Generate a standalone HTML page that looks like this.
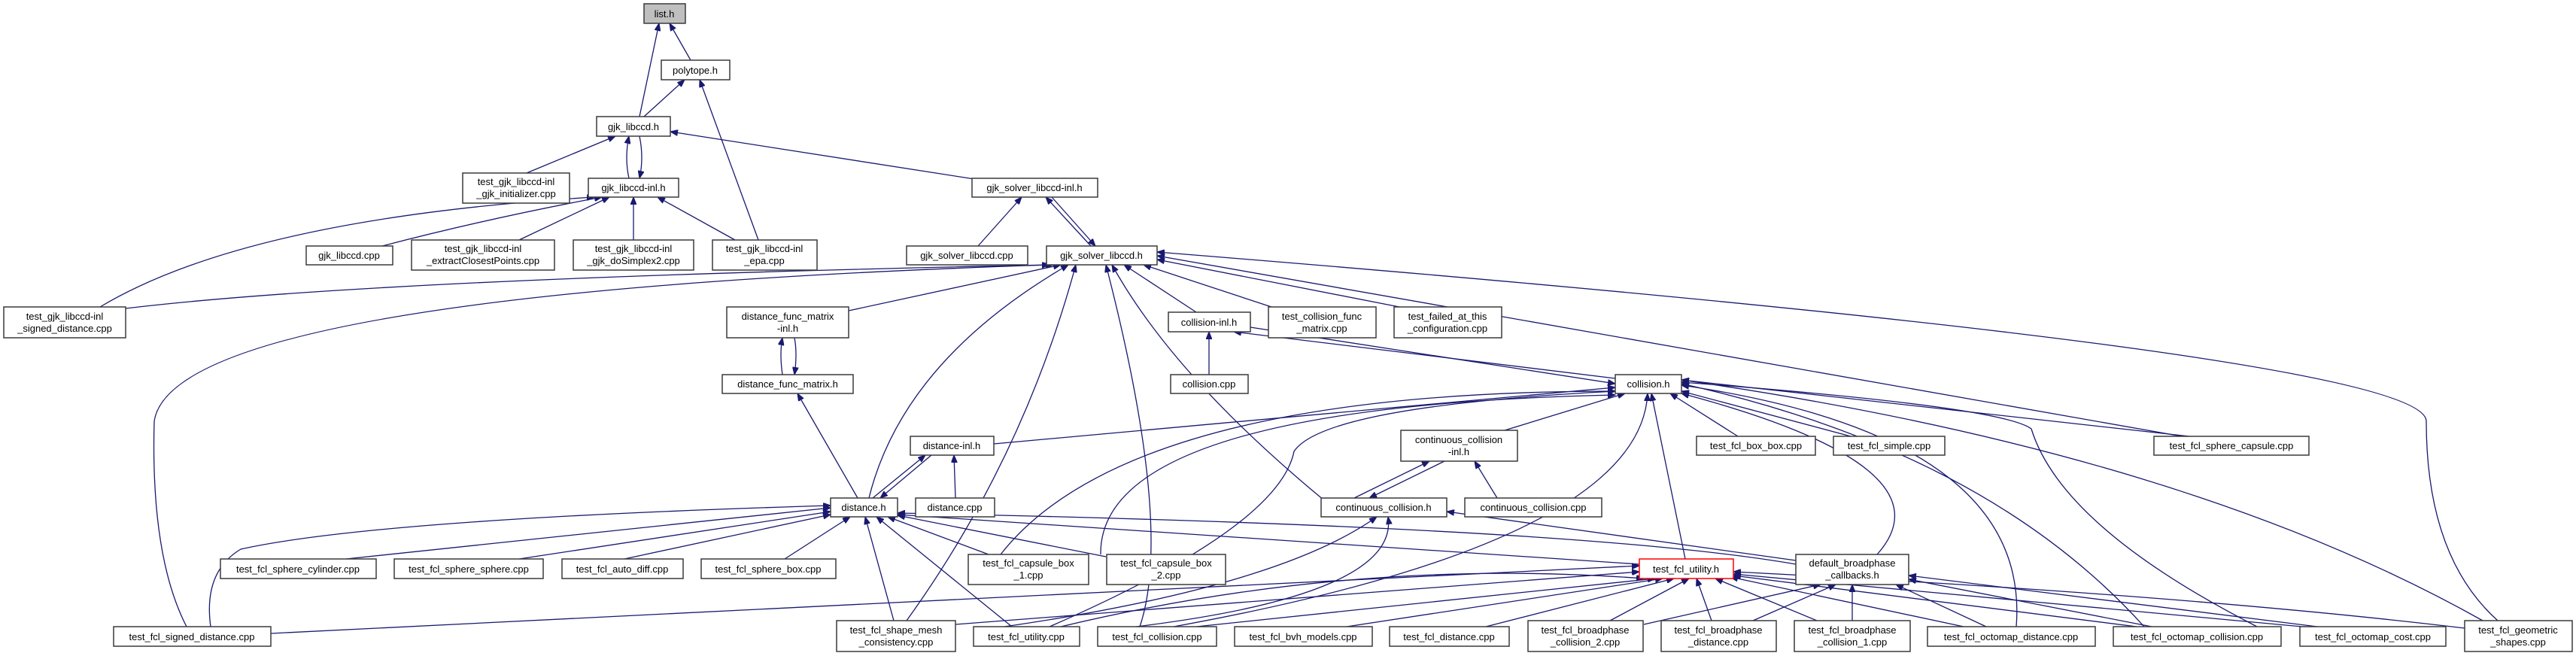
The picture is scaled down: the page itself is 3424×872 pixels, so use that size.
<!DOCTYPE html>
<html><head><meta charset="utf-8"><style>
html,body{margin:0;padding:0;background:#fff}
svg{display:block}
text{font-family:"Liberation Sans",sans-serif;font-size:13px;fill:#000;text-anchor:middle}
rect{fill:#fff;stroke:#3a3a3a;stroke-width:1.5}
path{fill:none;stroke:#191970;stroke-width:1.3}
</style></head><body>
<svg width="3424" height="872" viewBox="0 0 3424 872" xmlns="http://www.w3.org/2000/svg">
<defs><marker id="a" markerUnits="userSpaceOnUse" markerWidth="11" markerHeight="8" refX="10" refY="4" orient="auto"><path d="M0,0 L10,4 L0,8 z" style="fill:#191970;stroke:#191970;stroke-width:1"/></marker></defs>
<g marker-end="url(#a)">
<path d="M850,155 L876,31"/><path d="M918,80 L890,31"/><path d="M856,155 L910,106"/><path d="M1008,319 L930,106"/>
<path d="M700,230 L818,181"/><path d="M836,237 Q830,210 836,181"/><path d="M850,181 Q856,210 850,237"/>
<path d="M1295,238 L891,175"/>
<path d="M508,327 Q650,290 800,262"/><path d="M690,319 L810,262"/><path d="M842,319 L842,262"/><path d="M977,319 L874,262"/>
<path d="M133,408 Q330,290 790,262"/>
<path d="M1300,327 L1358,262"/><path d="M1450,327 L1390,262"/><path d="M1398,262 L1456,327"/>
<path d="M167,410 Q500,370 1400,352"/>
<path d="M248,833 Q200,740 205,560 Q230,390 1395,352"/>
<path d="M1128,413 L1410,352"/><path d="M1155,662 Q1200,480 1420,352"/><path d="M1205,825 Q1360,610 1430,352"/>
<path d="M1590,415 L1494,352"/><path d="M1690,408 L1520,352"/><path d="M1860,408 L1538,345"/>
<path d="M2900,580 L1538,340"/><path d="M3320,825 Q3225,740 3225,560 Q3225,470 1538,335"/>
<path d="M1760,665 Q1560,500 1478,352"/><path d="M1515,833 Q1560,700 1470,352"/>
<path d="M1040,498 Q1036,470 1040,449"/><path d="M1056,449 Q1060,470 1056,498"/>
<path d="M1140,662 L1060,523"/>
<path d="M1160,662 L1230,605"/><path d="M1238,605 L1170,662"/><path d="M1270,662 L1268,605"/>
<path d="M1607,498 L1607,441"/>
<path d="M2147,503 L1640,441"/><path d="M1662,435 L2147,510"/>
<path d="M1321,590 L2147,515"/><path d="M2000,572 L2160,523"/><path d="M2310,580 L2220,523"/><path d="M2460,580 L2235,520"/>
<path d="M2910,580 L2235,505"/><path d="M2240,743 L2195,523"/><path d="M2495,737 Q2600,620 2235,523"/>
<path d="M1330,737 Q1500,520 2147,520"/><path d="M1463,737 Q1460,540 2147,525"/>
<path d="M1395,833 Q1700,700 1720,600 Q1760,540 2147,520"/><path d="M1560,833 Q2180,720 2190,523"/>
<path d="M2680,833 Q2700,580 2235,512"/><path d="M2850,833 Q2640,600 2235,510"/><path d="M3000,833 Q2740,700 2700,570 Q2660,540 2235,508"/>
<path d="M3300,825 Q2900,600 2235,505"/>
<path d="M1800,662 L1900,613"/><path d="M1920,613 L1820,662"/><path d="M1990,662 L1960,613"/>
<path d="M2387,745 L1923,680"/><path d="M1335,833 Q1700,780 1830,687"/><path d="M1510,833 Q1860,790 1845,687"/>
<path d="M460,743 L1104,675"/><path d="M690,743 L1104,680"/><path d="M830,743 L1104,684"/><path d="M1043,743 L1130,687"/>
<path d="M280,833 Q270,760 320,730 Q500,690 1104,672"/>
<path d="M1188,825 L1150,687"/><path d="M1345,833 L1165,687"/><path d="M1314,737 L1180,687"/><path d="M1470,740 L1193,685"/>
<path d="M2387,750 Q2100,700 1193,682"/><path d="M2179,750 L1193,684"/>
<path d="M360,842 L2179,752"/><path d="M1270,830 L2179,760"/><path d="M1410,833 Q1800,740 2185,769"/><path d="M1590,833 L2200,769"/>
<path d="M1790,833 L2210,769"/><path d="M1975,833 L2225,769"/><path d="M2140,825 L2245,769"/><path d="M2275,825 L2255,769"/>
<path d="M2415,825 L2280,769"/><path d="M2610,833 L2300,767"/><path d="M2840,833 L2304,765"/><path d="M3060,833 L2304,763"/>
<path d="M3276,835 Q2900,790 2304,760"/>
<path d="M2185,830 L2420,777"/><path d="M2330,825 L2440,777"/><path d="M2462,825 L2462,777"/><path d="M2640,833 L2520,777"/>
<path d="M2860,833 L2537,770"/><path d="M3080,833 L2537,765"/>
</g>
<g>
<rect x="856" y="5" width="55" height="26" style="fill:#bfbfbf"/><text x="883" y="23">list.h</text>
<rect x="879" y="80" width="91" height="26"/><text x="924" y="98">polytope.h</text>
<rect x="793" y="155" width="98" height="26"/><text x="842" y="173">gjk_libccd.h</text>
<rect x="615" y="230" width="142" height="40"/><text x="686" y="246">test_gjk_libccd-inl</text><text x="686" y="262">_gjk_initializer.cpp</text>
<rect x="782" y="237" width="120" height="25"/><text x="842" y="254">gjk_libccd-inl.h</text>
<rect x="407" y="327" width="115" height="25"/><text x="464" y="344">gjk_libccd.cpp</text>
<rect x="547" y="319" width="190" height="40"/><text x="642" y="335">test_gjk_libccd-inl</text><text x="642" y="351">_extractClosestPoints.cpp</text>
<rect x="762" y="319" width="160" height="40"/><text x="842" y="335">test_gjk_libccd-inl</text><text x="842" y="351">_gjk_doSimplex2.cpp</text>
<rect x="947" y="319" width="139" height="40"/><text x="1016" y="335">test_gjk_libccd-inl</text><text x="1016" y="351">_epa.cpp</text>
<rect x="1292" y="237" width="167" height="25"/><text x="1375" y="254">gjk_solver_libccd-inl.h</text>
<rect x="1205" y="327" width="161" height="25"/><text x="1285" y="344">gjk_solver_libccd.cpp</text>
<rect x="1391" y="327" width="147" height="25"/><text x="1464" y="344">gjk_solver_libccd.h</text>
<rect x="5" y="408" width="162" height="41"/><text x="86" y="425">test_gjk_libccd-inl</text><text x="86" y="441">_signed_distance.cpp</text>
<rect x="966" y="408" width="162" height="41"/><text x="1047" y="425">distance_func_matrix</text><text x="1047" y="441">-inl.h</text>
<rect x="1553" y="415" width="109" height="26"/><text x="1607" y="433">collision-inl.h</text>
<rect x="1686" y="408" width="143" height="41"/><text x="1757" y="425">test_collision_func</text><text x="1757" y="441">_matrix.cpp</text>
<rect x="1853" y="408" width="143" height="41"/><text x="1924" y="425">test_failed_at_this</text><text x="1924" y="441">_configuration.cpp</text>
<rect x="960" y="498" width="174" height="25"/><text x="1047" y="515">distance_func_matrix.h</text>
<rect x="1556" y="498" width="103" height="25"/><text x="1607" y="515">collision.cpp</text>
<rect x="2147" y="498" width="88" height="25"/><text x="2191" y="515">collision.h</text>
<rect x="1210" y="580" width="111" height="25"/><text x="1265" y="597">distance-inl.h</text>
<rect x="1862" y="572" width="155" height="41"/><text x="1939" y="589">continuous_collision</text><text x="1939" y="605">-inl.h</text>
<rect x="2255" y="580" width="158" height="25"/><text x="2334" y="597">test_fcl_box_box.cpp</text>
<rect x="2437" y="580" width="148" height="25"/><text x="2511" y="597">test_fcl_simple.cpp</text>
<rect x="2863" y="580" width="206" height="25"/><text x="2966" y="597">test_fcl_sphere_capsule.cpp</text>
<rect x="1104" y="662" width="89" height="25"/><text x="1148" y="679">distance.h</text>
<rect x="1217" y="662" width="105" height="25"/><text x="1269" y="679">distance.cpp</text>
<rect x="1756" y="662" width="167" height="25"/><text x="1839" y="679">continuous_collision.h</text>
<rect x="1947" y="662" width="182" height="25"/><text x="2038" y="679">continuous_collision.cpp</text>
<rect x="293" y="743" width="207" height="26"/><text x="396" y="761">test_fcl_sphere_cylinder.cpp</text>
<rect x="524" y="743" width="198" height="26"/><text x="623" y="761">test_fcl_sphere_sphere.cpp</text>
<rect x="747" y="743" width="161" height="26"/><text x="827" y="761">test_fcl_auto_diff.cpp</text>
<rect x="932" y="743" width="179" height="26"/><text x="1021" y="761">test_fcl_sphere_box.cpp</text>
<rect x="1287" y="737" width="160" height="40"/><text x="1367" y="753">test_fcl_capsule_box</text><text x="1367" y="769">_1.cpp</text>
<rect x="1471" y="737" width="158" height="40"/><text x="1550" y="753">test_fcl_capsule_box</text><text x="1550" y="769">_2.cpp</text>
<rect x="2179" y="743" width="125" height="26" style="stroke:#ff0000"/><text x="2241" y="761">test_fcl_utility.h</text>
<rect x="2387" y="737" width="150" height="40"/><text x="2462" y="753">default_broadphase</text><text x="2462" y="769">_callbacks.h</text>
<rect x="151" y="833" width="209" height="26"/><text x="255" y="851">test_fcl_signed_distance.cpp</text>
<rect x="1112" y="825" width="158" height="41"/><text x="1191" y="842">test_fcl_shape_mesh</text><text x="1191" y="858">_consistency.cpp</text>
<rect x="1294" y="833" width="141" height="26"/><text x="1364" y="851">test_fcl_utility.cpp</text>
<rect x="1459" y="833" width="158" height="26"/><text x="1538" y="851">test_fcl_collision.cpp</text>
<rect x="1641" y="833" width="183" height="26"/><text x="1732" y="851">test_fcl_bvh_models.cpp</text>
<rect x="1847" y="833" width="159" height="26"/><text x="1926" y="851">test_fcl_distance.cpp</text>
<rect x="2031" y="825" width="153" height="41"/><text x="2107" y="842">test_fcl_broadphase</text><text x="2107" y="858">_collision_2.cpp</text>
<rect x="2208" y="825" width="153" height="41"/><text x="2284" y="842">test_fcl_broadphase</text><text x="2284" y="858">_distance.cpp</text>
<rect x="2385" y="825" width="154" height="41"/><text x="2462" y="842">test_fcl_broadphase</text><text x="2462" y="858">_collision_1.cpp</text>
<rect x="2562" y="833" width="223" height="26"/><text x="2673" y="851">test_fcl_octomap_distance.cpp</text>
<rect x="2809" y="833" width="223" height="26"/><text x="2920" y="851">test_fcl_octomap_collision.cpp</text>
<rect x="3057" y="833" width="194" height="26"/><text x="3154" y="851">test_fcl_octomap_cost.cpp</text>
<rect x="3276" y="825" width="143" height="41"/><text x="3347" y="842">test_fcl_geometric</text><text x="3347" y="858">_shapes.cpp</text>
</g>
</svg>
</body></html>
